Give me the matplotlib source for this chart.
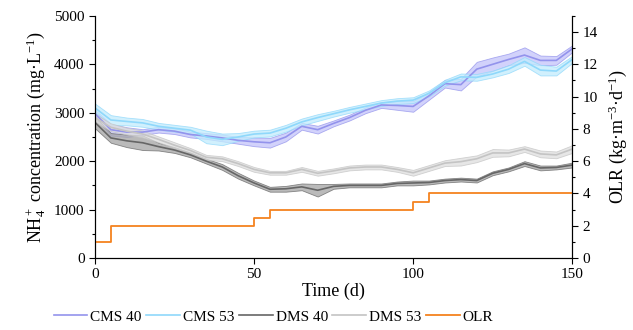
import numpy as np
import matplotlib
matplotlib.use('Agg')
import matplotlib.pyplot as plt
from matplotlib.ticker import MultipleLocator

plt.rcParams['font.family'] = ['Liberation Serif', 'DejaVu Serif']
plt.rcParams['mathtext.fontset'] = 'custom'
plt.rcParams['mathtext.rm'] = 'Liberation Serif'
plt.rcParams['mathtext.it'] = 'Liberation Serif:italic'

days = np.arange(0, 155, 5)

cms40 = [2980, 2650, 2600, 2600, 2650, 2620, 2550, 2520, 2480, 2430, 2400,
         2380, 2500, 2720, 2650, 2780, 2900, 3050, 3160, 3150, 3130, 3350,
         3600, 3580, 3900, 4000, 4100, 4190, 4080, 4080, 4320]
cms40_err = [80, 120, 100, 60, 60, 60, 60, 60, 70, 70, 90,
             100, 90, 70, 80, 60, 60, 60, 60, 90, 110, 80,
             80, 120, 150, 140, 120, 160, 100, 90, 70]

cms53 = [3100, 2850, 2820, 2790, 2720, 2680, 2640, 2500, 2450, 2500, 2560,
         2580, 2680, 2810, 2900, 2980, 3060, 3130, 3200, 3240, 3260, 3400,
         3620, 3740, 3730, 3800, 3900, 4060, 3880, 3860, 4100]
cms53_err = [90, 100, 80, 80, 70, 70, 70, 130, 120, 80, 70,
             70, 70, 70, 70, 60, 60, 60, 60, 60, 60, 60,
             60, 70, 70, 70, 80, 90, 110, 90, 70]

dms40 = [2800, 2480, 2420, 2380, 2300, 2230, 2130, 2000, 1880, 1700, 1550,
         1420, 1430, 1470, 1400, 1480, 1500, 1500, 1500, 1540, 1550, 1560,
         1600, 1620, 1600, 1750, 1830, 1950, 1860, 1870, 1920]
dms40_err = [120, 100, 130, 150, 80, 60, 50, 50, 60, 60, 50,
             50, 60, 70, 130, 50, 40, 40, 40, 40, 50, 40,
             40, 40, 40, 40, 40, 50, 50, 40, 50]

dms53 = [2900, 2700, 2620, 2560, 2450, 2330, 2220, 2080, 2050, 1950, 1830,
         1760, 1760, 1830, 1750, 1800, 1860, 1880, 1880, 1830, 1760, 1860,
         1960, 1990, 2050, 2170, 2170, 2250, 2150, 2130, 2250]
dms53_err = [80, 80, 70, 70, 60, 60, 50, 50, 50, 50, 50,
             40, 40, 50, 50, 50, 50, 50, 50, 50, 60, 60,
             60, 80, 70, 80, 70, 60, 70, 70, 80]

olr_days = [0, 5, 50, 55, 100, 105, 150]
olr = [1, 2, 2.5, 3, 3.5, 4, 4]

fig = plt.figure(figsize=(6.33, 3.30), dpi=100)
ax = fig.add_axes([0.150, 0.218, 0.754, 0.734])

series = [
    (cms40, cms40_err, '#9393ec', '#c4c4fa', 'CMS 40'),
    (cms53, cms53_err, '#8fd8fb', '#c2ecfd', 'CMS 53'),
    (dms40, dms40_err, '#666666', '#a3a3a3', 'DMS 40'),
    (dms53, dms53_err, '#c4c4c4', '#dedede', 'DMS 53'),
]
handles = []
for vals, err, lc, fc, lab in series:
    v = np.array(vals)
    e = np.array(err)
    ax.fill_between(days, v - e, v + e, color=fc, alpha=0.75, lw=0.6, edgecolor=lc)
    h, = ax.plot(days, v, color=lc, lw=1.2, label=lab)
    handles.append(h)

ax.set_xlim(0, 150)
ax.set_ylim(0, 5000)
ax.xaxis.set_major_locator(MultipleLocator(50))
ax.yaxis.set_major_locator(MultipleLocator(1000))
ax.yaxis.set_minor_locator(MultipleLocator(500))
ax.tick_params(which='both', direction='out', labelsize=11, width=0.8)
ax.tick_params(which='major', length=4)
ax.tick_params(which='minor', length=2.5)
ax.spines['top'].set_visible(False)
ax.set_xlabel('Time (d)', fontsize=13, labelpad=1)
ax.set_ylabel(r'NH$_4^+$ concentration (mg·L$^{-1}$)', fontsize=13, labelpad=4)

ax2 = ax.twinx()
h_olr, = ax2.step(olr_days, olr, where='post', color='#f5821f', lw=1.3, label='OLR')
handles.append(h_olr)
ax2.set_ylim(0, 15)
ax2.yaxis.set_major_locator(MultipleLocator(2))
ax2.yaxis.set_minor_locator(MultipleLocator(1))
ax2.tick_params(which='both', direction='out', labelsize=11, width=0.8)
ax2.tick_params(which='major', length=4)
ax2.tick_params(which='minor', length=2.5)
ax2.spines['top'].set_visible(False)
ax2.set_ylabel(r'OLR (kg·m$^{-3}$·d$^{-1}$)', fontsize=13, labelpad=6)

fig.legend(handles=handles, loc='center', bbox_to_anchor=(0.432, 0.04), ncol=5,
           frameon=False, fontsize=11, handlelength=2.2, handletextpad=0.2,
           columnspacing=0.3)

fig.savefig('out.png', dpi=100, facecolor='white')
